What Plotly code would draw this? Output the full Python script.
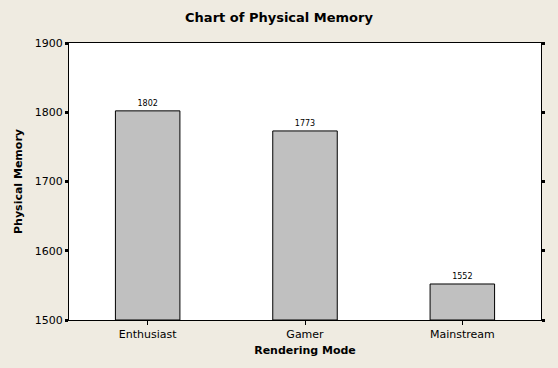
import plotly.graph_objects as go

categories = ["Enthusiast", "Gamer", "Mainstream"]
values = [1802, 1773, 1552]
y_ticks = [1500, 1600, 1700, 1800, 1900]
baseline = 1500

FONT = "DejaVu Sans"
BG = "#EFEBE1"

fig = go.Figure(
    go.Bar(
        x=categories,
        y=[v - baseline for v in values],
        base=baseline,
        width=0.41,
        marker=dict(color="#C0C0C0", line=dict(color="black", width=1)),
        text=[str(v) for v in values],
        textposition="outside",
        textfont=dict(family=FONT, size=8, color="black"),
        cliponaxis=False,
        hoverinfo="skip",
    )
)

fig.update_layout(
    width=558,
    height=368,
    paper_bgcolor=BG,
    plot_bgcolor="white",
    margin=dict(l=69, r=17, t=43, b=48),
    showlegend=False,
    title=dict(
        text="<b>Chart of Physical Memory</b>",
        x=0.5,
        xanchor="center",
        y=1 - 17 / 368,
        yanchor="middle",
        font=dict(family=FONT, size=13, color="black"),
    ),
    font=dict(family=FONT, size=11, color="black"),
)

fig.update_xaxes(
    range=[-0.5, 2.5],
    showline=True,
    linecolor="black",
    linewidth=1,
    mirror=True,
    ticks="outside",
    ticklen=4,
    tickwidth=1,
    tickcolor="black",
    showgrid=False,
    tickfont=dict(family=FONT, size=11),
    title=dict(text="<b>Rendering Mode</b>", font=dict(family=FONT, size=11), standoff=6),
)

fig.update_yaxes(
    range=[1500, 1900],
    tickvals=y_ticks,
    showline=True,
    linecolor="black",
    linewidth=1,
    mirror="ticks",
    ticks="outside",
    ticklen=3,
    tickwidth=3,
    tickcolor="black",
    showgrid=False,
    zeroline=False,
    tickfont=dict(family=FONT, size=11),
    title=dict(text="<b>Physical Memory</b>", font=dict(family=FONT, size=11), standoff=9),
)

fig.write_html(
    "out.html",
    config={"displayModeBar": False},
    post_script="document.body.style.margin='0';document.body.style.overflow='hidden';",
)
